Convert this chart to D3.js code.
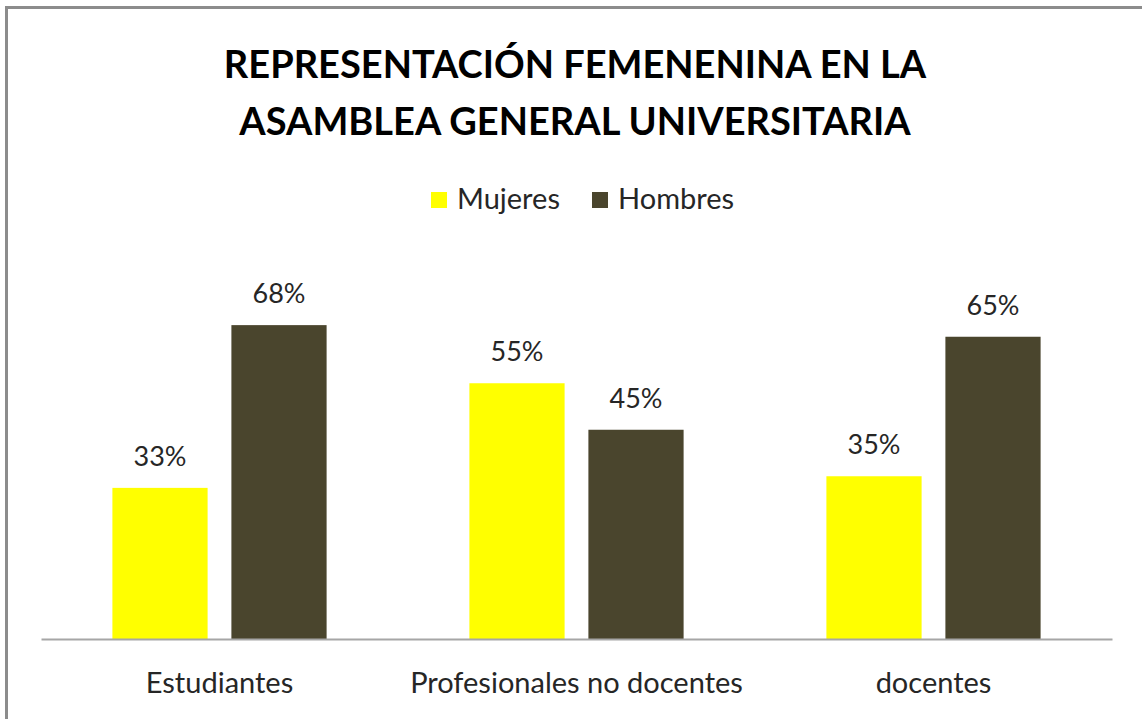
<!DOCTYPE html>
<html>
<head>
<meta charset="utf-8">
<script src="https://cdn.jsdelivr.net/npm/d3@7"></script>
<style>
  body { margin: 0; background: #fff; }
  text { font-family: Lato, "Open Sans", sans-serif; }
</style>
</head>
<body>
<svg id="chart"></svg>
<script>
// datos
const categories = ["Estudiantes", "Profesionales no docentes", "docentes"];
const series = ["Mujeres", "Hombres"];
const mujeres = [0.325, 0.55, 0.35];
const hombres = [0.675, 0.45, 0.65];
const colors = ["#FFFF00", "#4A452D"];
const titleLines = ["REPRESENTACIÓN FEMENENINA EN LA", "ASAMBLEA GENERAL UNIVERSITARIA"];

const svgWidth = 1142, svgHeight = 719;
const svg = d3.select("#chart").attr("width", svgWidth).attr("height", svgHeight);

// marco
svg.append("rect")
  .attr("x", 6.5).attr("y", 7.5)
  .attr("width", svgWidth + 20).attr("height", svgHeight + 20)
  .style("fill", "none").style("stroke", "#8c8c8c").style("stroke-width", 3);

const plot = { left: 41, right: 1112, top: 267, bottom: 639 };

// escalas
const x0 = d3.scaleBand().domain(categories).range([plot.left, plot.right]).padding(0);
const x1 = d3.scaleBand().domain(series)
  .range([x0.bandwidth() * 0.2, x0.bandwidth() * 0.8])
  .paddingInner(0.2).paddingOuter(0);
const y = d3.scaleLinear().domain([0, 0.8]).range([plot.bottom, plot.top]);

const rows = categories.map((c, i) => ({ cat: c, values: [mujeres[i], hombres[i]] }));

// titulo
const title = svg.append("g");
titleLines.forEach((t, i) => {
  title.append("text")
    .attr("x", 575).attr("y", 78 + i * 57)
    .attr("text-anchor", "middle")
    .style("font-weight", "bold")
    .style("font-size", "38px")
    .style("fill", "#000")
    .text(t);
});

// leyenda
const legend = svg.append("g").attr("transform", "translate(431,192)");
const legendX = [0, 161];
series.forEach((s, i) => {
  const g = legend.append("g").attr("transform", `translate(${legendX[i]},0)`);
  g.append("rect").attr("width", 16).attr("height", 16).style("fill", colors[i]);
  g.append("text").attr("x", 26).attr("y", 17)
    .style("font-size", "29px").style("fill", "#262626").text(s);
});

// barras
const groups = svg.selectAll(".grupo")
  .data(rows)
  .enter()
  .append("g")
  .attr("class", "grupo")
  .attr("transform", d => `translate(${x0(d.cat)},0)`);

groups.selectAll("rect")
  .data(d => d.values.map((v, i) => ({ serie: series[i], v, i })))
  .enter()
  .append("rect")
  .attr("x", d => x1(d.serie))
  .attr("y", d => y(d.v))
  .attr("width", x1.bandwidth())
  .attr("height", d => y(0) - y(d.v))
  .style("fill", d => colors[d.i]);

groups.selectAll(".etiqueta")
  .data(d => d.values.map((v, i) => ({ serie: series[i], v, i })))
  .enter()
  .append("text")
  .attr("class", "etiqueta")
  .attr("x", d => x1(d.serie) + x1.bandwidth() / 2)
  .attr("y", d => y(d.v) - 22)
  .attr("text-anchor", "middle")
  .style("font-size", "27px")
  .style("fill", "#262626")
  .text(d => d3.format(".0%")(d.v + 1e-9));

// eje x
const xAxis = svg.append("g")
  .attr("transform", `translate(0,${plot.bottom})`)
  .call(d3.axisBottom(x0).tickSize(0).tickPadding(0));
xAxis.select(".domain").style("stroke", "#a6a6a6").style("stroke-width", 2);
xAxis.selectAll(".tick text")
  .attr("dy", null).attr("y", 54)
  .style("font-size", "29px")
  .style("font-family", "Lato, 'Open Sans', sans-serif")
  .style("fill", "#262626");
</script>
</body>
</html>
